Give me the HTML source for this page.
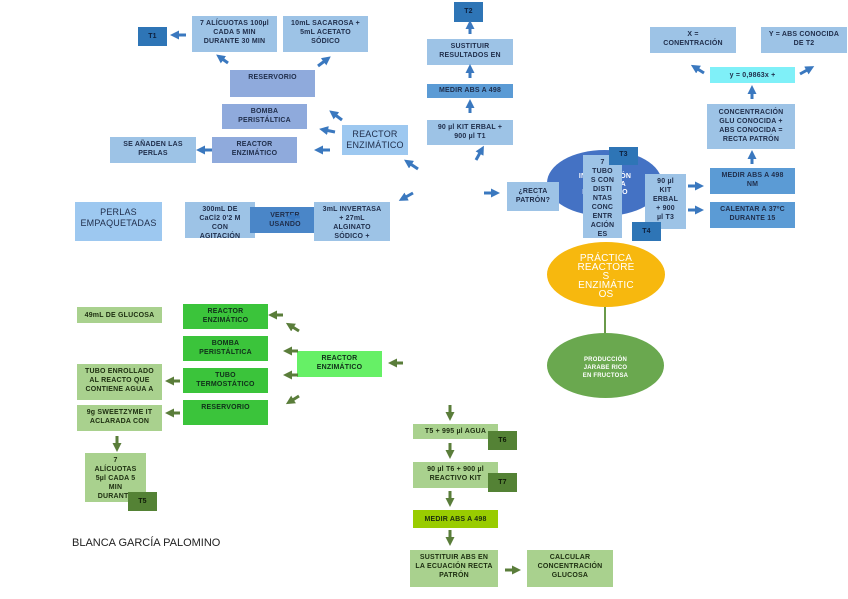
<!DOCTYPE html>
<html><head><meta charset="utf-8"><style>
body{margin:0;width:848px;height:599px;background:#fff;position:relative;overflow:hidden;font-family:"Liberation Sans",sans-serif}
.b{position:absolute;display:flex;align-items:flex-start;justify-content:center;text-align:center;font-weight:bold;font-size:7px;line-height:9px;color:#1f2d4a;box-sizing:border-box;padding-top:3px;overflow:hidden;letter-spacing:0.2px}
.lb{background:#9dc3e6}
.pb{background:#8faadc}
.db{background:#2e75b6;color:#0d1f3c}
.mb{background:#5b9bd5}
.gb{background:#3bc43b;color:#10301a}
.lg{background:#a9d18e;color:#1d2e10}
.dg{background:#548235;color:#0e1a06}
svg{position:absolute;left:0;top:0}
</style></head><body>
<div class="b db" style="left:138px;top:27px;width:29px;height:19px;padding-top:5px">T1</div>
<div class="b lb" style="left:192px;top:16px;width:85px;height:36px">7 ALÍCUOTAS 100µl<br>CADA 5 MIN<br>DURANTE 30 MIN</div>
<div class="b lb" style="left:283px;top:16px;width:85px;height:36px">10mL SACAROSA +<br>5mL ACETATO<br>SÓDICO</div>
<div class="b pb" style="left:230px;top:70px;width:85px;height:27px">RESERVORIO</div>
<div class="b pb" style="left:222px;top:104px;width:85px;height:25px">BOMBA<br>PERISTÁLTICA</div>
<div class="b lb" style="left:110px;top:137px;width:86px;height:26px">SE AÑADEN LAS<br>PERLAS</div>
<div class="b pb" style="left:212px;top:137px;width:85px;height:26px">REACTOR<br>ENZIMÁTICO</div>
<div class="b" style="left:342px;top:125px;width:66px;height:30px;background:#9dc8f0;font-weight:normal;font-size:9px;line-height:11px;padding-top:4px">REACTOR<br>ENZIMÁTICO</div>
<div class="b" style="left:75px;top:202px;width:87px;height:39px;background:#9dc8f0;font-weight:normal;font-size:9px;line-height:11px;padding-top:5px">PERLAS<br>EMPAQUETADAS</div>
<div class="b lb" style="left:185px;top:202px;width:70px;height:36px">300mL DE<br>CaCl2 0'2 M<br>CON<br>AGITACIÓN</div>
<div class="b" style="left:250px;top:207px;width:70px;height:26px;background:#4a86c8;padding-top:4px">VERTER<br>USANDO</div>
<div class="b lb" style="left:314px;top:202px;width:76px;height:39px">3mL INVERTASA<br>+ 27mL<br>ALGINATO<br>SÓDICO +</div>
<div class="b db" style="left:454px;top:2px;width:29px;height:20px;padding-top:5px">T2</div>
<div class="b lb" style="left:427px;top:39px;width:86px;height:26px">SUSTITUIR<br>RESULTADOS EN</div>
<div class="b mb" style="left:427px;top:84px;width:86px;height:14px;padding-top:2px">MEDIR ABS A 498</div>
<div class="b lb" style="left:427px;top:120px;width:86px;height:25px">90 µl KIT ERBAL +<br>900 µl T1</div>
<div class="b lb" style="left:650px;top:27px;width:86px;height:26px">X =<br>CONENTRACIÓN</div>
<div class="b lb" style="left:761px;top:27px;width:86px;height:26px">Y = ABS CONOCIDA<br>DE T2</div>
<div class="b" style="left:710px;top:67px;width:85px;height:16px;background:#7ff0f8;padding-top:4px">y = 0,9863x +</div>
<div class="b lb" style="left:707px;top:104px;width:88px;height:45px;padding-top:4px">CONCENTRACIÓN<br>GLU CONOCIDA +<br>ABS CONOCIDA =<br>RECTA PATRÓN</div>
<div class="b mb" style="left:710px;top:168px;width:85px;height:26px">MEDIR ABS A 498<br>NM</div>
<div class="b mb" style="left:710px;top:202px;width:85px;height:26px">CALENTAR A 37ºC<br>DURANTE 15</div>
<div style="position:absolute;left:547px;top:150px;width:115px;height:66px;border-radius:50%;background:#4472c4"></div>
<div class="b" style="left:560px;top:170px;width:90px;height:25px;background:none;color:#fff;font-size:7px;line-height:8px">INFORMACIÓN<br>INVERTASA<br>ENZIMÁTICO</div>
<div class="b lb" style="left:507px;top:182px;width:52px;height:29px;padding-top:5px">¿RECTA<br>PATRÓN?</div>
<div class="b lb" style="left:583px;top:155px;width:39px;height:83px;line-height:9px">7<br>TUBO<br>S CON<br>DISTI<br>NTAS<br>CONC<br>ENTR<br>ACIÓN<br>ES</div>
<div class="b db" style="left:609px;top:147px;width:29px;height:18px;padding-top:3px">T3</div>
<div class="b lb" style="left:645px;top:174px;width:41px;height:55px;line-height:9px">90 µl<br>KIT<br>ERBAL<br>+ 900<br>µl T3</div>
<div class="b db" style="left:632px;top:222px;width:29px;height:19px;padding-top:5px">T4</div>
<div style="position:absolute;left:547px;top:242px;width:118px;height:65px;border-radius:50%;background:#f7b80e"></div>
<div class="b" style="left:547px;top:251px;width:118px;height:50px;background:none;color:#fff;font-size:10px;line-height:9px;font-weight:normal">PRÁCTICA<br>REACTORE<br>S<br>ENZIMÁTIC<br>OS</div>
<div style="position:absolute;left:604px;top:307px;width:2px;height:28px;background:#6a9a4a"></div>
<div style="position:absolute;left:547px;top:333px;width:117px;height:65px;border-radius:50%;background:#6aa84f"></div>
<div class="b" style="left:547px;top:353px;width:117px;height:30px;background:none;color:#fff;font-size:6px;line-height:8px">PRODUCCIÓN<br>JARABE RICO<br>EN FRUCTOSA</div>
<div class="b lg" style="left:77px;top:307px;width:85px;height:16px;padding-top:4px">49mL DE GLUCOSA</div>
<div class="b gb" style="left:183px;top:304px;width:85px;height:25px">REACTOR<br>ENZIMÁTICO</div>
<div class="b gb" style="left:183px;top:336px;width:85px;height:25px">BOMBA<br>PERISTÁLTICA</div>
<div class="b gb" style="left:183px;top:368px;width:85px;height:25px">TUBO<br>TERMOSTÁTICO</div>
<div class="b gb" style="left:183px;top:400px;width:85px;height:25px">RESERVORIO</div>
<div class="b" style="left:297px;top:351px;width:85px;height:26px;background:#66f066;color:#10301a">REACTOR<br>ENZIMÁTICO</div>
<div class="b lg" style="left:77px;top:364px;width:85px;height:36px">TUBO ENROLLADO<br>AL REACTO QUE<br>CONTIENE AGUA A</div>
<div class="b lg" style="left:77px;top:405px;width:85px;height:26px">9g SWEETZYME IT<br>ACLARADA CON</div>
<div class="b lg" style="left:85px;top:453px;width:61px;height:49px;line-height:9px">7<br>ALÍCUOTAS<br>5µl CADA 5<br>MIN<br>DURANTE</div>
<div class="b dg" style="left:128px;top:492px;width:29px;height:19px;padding-top:5px">T5</div>
<div style="position:absolute;left:72px;top:537px;font-size:11px;color:#222">BLANCA GARCÍA PALOMINO</div>
<div class="b lg" style="left:413px;top:424px;width:85px;height:15px;padding-top:3px">T5 + 995 µl AGUA</div>
<div class="b dg" style="left:488px;top:431px;width:29px;height:19px;padding-top:5px">T6</div>
<div class="b lg" style="left:413px;top:462px;width:85px;height:26px">90 µl T6 + 900 µl<br>REACTIVO KIT</div>
<div class="b dg" style="left:488px;top:473px;width:29px;height:19px;padding-top:5px">T7</div>
<div class="b" style="left:413px;top:510px;width:85px;height:18px;background:#99cc00;color:#1d2e10;padding-top:5px">MEDIR ABS A 498</div>
<div class="b lg" style="left:410px;top:550px;width:88px;height:37px">SUSTITUIR ABS EN<br>LA ECUACIÓN RECTA<br>PATRÓN</div>
<div class="b lg" style="left:527px;top:550px;width:86px;height:37px">CALCULAR<br>CONCENTRACIÓN<br>GLUCOSA</div>
<svg width="848" height="599">
<defs>
<marker id="ab" markerWidth="3" markerHeight="3" refX="1" refY="1.5" orient="auto"><path d="M0,0 L3,1.5 L0,3z" fill="#3a78bf"/></marker>
<marker id="ag" markerWidth="3" markerHeight="3" refX="1" refY="1.5" orient="auto"><path d="M0,0 L3,1.5 L0,3z" fill="#5a7d3a"/></marker>
</defs>
<g stroke="#3a78bf" stroke-width="3" marker-end="url(#ab)">
<line x1="186" y1="35" x2="176" y2="35"/>
<line x1="228" y1="63" x2="221" y2="58"/>
<line x1="318" y1="66" x2="326" y2="60"/>
<line x1="342" y1="120" x2="334" y2="114"/>
<line x1="335" y1="132" x2="325" y2="130"/>
<line x1="330" y1="150" x2="320" y2="150"/>
<line x1="212" y1="150" x2="202" y2="150"/>
<line x1="418" y1="169" x2="409" y2="163"/>
<line x1="413" y1="193" x2="404" y2="198"/>
<line x1="484" y1="193" x2="494" y2="193"/>
<line x1="476" y1="160" x2="481" y2="151"/>
<line x1="470" y1="34" x2="470" y2="26"/>
<line x1="470" y1="78" x2="470" y2="70"/>
<line x1="470" y1="113" x2="470" y2="105"/>
<line x1="300" y1="217" x2="292" y2="217"/>
<line x1="688" y1="186" x2="698" y2="186"/>
<line x1="688" y1="210" x2="698" y2="210"/>
<line x1="752" y1="164" x2="752" y2="156"/>
<line x1="752" y1="99" x2="752" y2="91"/>
<line x1="704" y1="73" x2="696" y2="68"/>
<line x1="800" y1="74" x2="809" y2="69"/>
</g>
<g stroke="#5a7d3a" stroke-width="3" marker-end="url(#ag)">
<line x1="283" y1="315" x2="274" y2="315"/>
<line x1="403" y1="363" x2="394" y2="363"/>
<line x1="299" y1="331" x2="291" y2="326"/>
<line x1="298" y1="351" x2="289" y2="351"/>
<line x1="298" y1="375" x2="289" y2="375"/>
<line x1="299" y1="396" x2="291" y2="401"/>
<line x1="180" y1="381" x2="171" y2="381"/>
<line x1="180" y1="413" x2="171" y2="413"/>
<line x1="117" y1="436" x2="117" y2="446"/>
<line x1="450" y1="405" x2="450" y2="415"/>
<line x1="450" y1="443" x2="450" y2="453"/>
<line x1="450" y1="491" x2="450" y2="501"/>
<line x1="450" y1="530" x2="450" y2="540"/>
<line x1="505" y1="570" x2="515" y2="570"/>
</g>
</svg>
</body></html>
